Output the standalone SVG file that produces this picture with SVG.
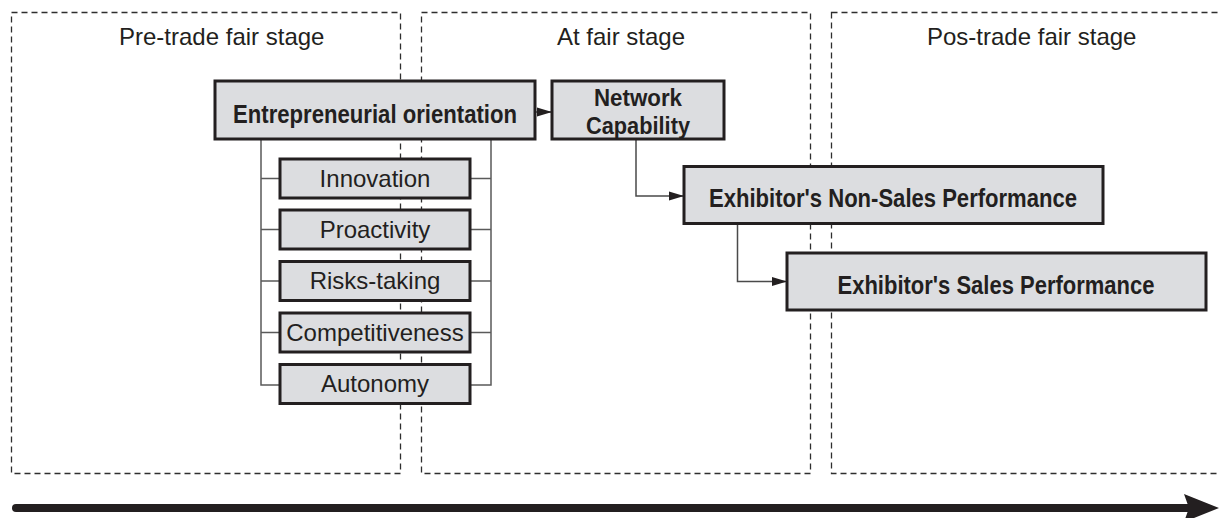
<svg xmlns="http://www.w3.org/2000/svg" width="1219" height="518" viewBox="0 0 1219 518">
  <style>
    .stage { fill: none; stroke: #2e2e2e; stroke-width: 1.3; stroke-dasharray: 6 4; }
    .stage-label { font-family: "Liberation Sans", Arial, sans-serif; font-size: 24px; fill: #231f20; }
    .box { fill: #dcdde0; stroke: #231f20; stroke-width: 3; }
    .label { font-family: "Liberation Sans", Arial, sans-serif; font-size: 24px; fill: #231f20; text-anchor: middle; }
    .bold { font-family: "Liberation Sans Narrow", "Liberation Sans", Arial, sans-serif; font-weight: bold; font-size: 26px; fill: #231f20; text-anchor: middle; }
    .bold.two-line { font-size: 24px; }
    .link { fill: none; stroke: #4a4a4a; stroke-width: 1.5; }
    .tree { fill: none; stroke: #5a5a5a; stroke-width: 1.5; }
  </style>
  <defs>
    <marker id="arrow" markerUnits="userSpaceOnUse" markerWidth="16" markerHeight="10" refX="15" refY="5" orient="auto">
      <path d="M0,0.5 L15,5 L0,9.5 Z" fill="#231f20"/>
    </marker>
  </defs>

  <!-- Stage frames -->
  <g id="stages">
    <rect class="stage" x="11.5" y="12.5" width="389" height="461"/>
    <rect class="stage" x="421.5" y="12.5" width="389" height="461"/>
    <rect class="stage" x="831.5" y="12.5" width="392" height="461"/>
    <text class="stage-label" x="119" y="45">Pre-trade fair stage</text>
    <text class="stage-label" x="557" y="45">At fair stage</text>
    <text class="stage-label" x="927" y="45">Pos-trade fair stage</text>
  </g>

  <!-- Connectors -->
  <g id="connectors">
    <!-- dimension tree -->
    <path class="tree" d="M261,139 V385 H280 M261,178.5 H280 M261,229.5 H280 M261,281 H280 M261,332.5 H280"/>
    <path class="tree" d="M491,139 V385 H470 M491,178.5 H470 M491,229.5 H470 M491,281 H470 M491,332.5 H470"/>
    <path class="link" d="M535,112 H552" marker-end="url(#arrow)"/>
    <path class="link" d="M636,139 V196 H684" marker-end="url(#arrow)"/>
    <path class="link" d="M737.5,223 V281.5 H787" marker-end="url(#arrow)"/>
  </g>

  <g id="entrepreneurial-orientation">
    <rect class="box" x="215" y="81" width="320" height="58"/>
    <text class="bold" x="375" y="123" textLength="284" lengthAdjust="spacingAndGlyphs">Entrepreneurial orientation</text>
  </g>

  <g id="innovation">
    <rect class="box" x="280" y="159" width="190" height="39"/>
    <text class="label" x="375" y="186.5">Innovation</text>
  </g>
  <g id="proactivity">
    <rect class="box" x="280" y="210" width="190" height="39"/>
    <text class="label" x="375" y="237.5">Proactivity</text>
  </g>
  <g id="risks-taking">
    <rect class="box" x="280" y="261.5" width="190" height="39"/>
    <text class="label" x="375" y="289">Risks-taking</text>
  </g>
  <g id="competitiveness">
    <rect class="box" x="280" y="313" width="190" height="39"/>
    <text class="label" x="375" y="340.5">Competitiveness</text>
  </g>
  <g id="autonomy">
    <rect class="box" x="280" y="364.5" width="190" height="39"/>
    <text class="label" x="375" y="392">Autonomy</text>
  </g>

  <g id="network-capability">
    <rect class="box" x="552" y="81" width="172" height="58"/>
    <text class="bold two-line" x="638" y="105.5" textLength="88" lengthAdjust="spacingAndGlyphs">Network</text>
    <text class="bold two-line" x="638" y="134" textLength="104" lengthAdjust="spacingAndGlyphs">Capability</text>
  </g>

  <g id="non-sales-performance">
    <rect class="box" x="684" y="166.5" width="419" height="57"/>
    <text class="bold" x="893" y="207" textLength="368" lengthAdjust="spacingAndGlyphs">Exhibitor's Non-Sales Performance</text>
  </g>

  <g id="sales-performance">
    <rect class="box" x="787" y="253" width="419" height="57"/>
    <text class="bold" x="996" y="293.5" textLength="317" lengthAdjust="spacingAndGlyphs">Exhibitor's Sales Performance</text>
  </g>

  <!-- Time axis -->
  <g id="timeline">
    <path d="M16,508 H1190" stroke="#231f20" stroke-width="8" stroke-linecap="round" fill="none"/>
    <path d="M1184,494 L1219,508 L1184,522 L1189,508 Z" fill="#231f20"/>
  </g>
</svg>
